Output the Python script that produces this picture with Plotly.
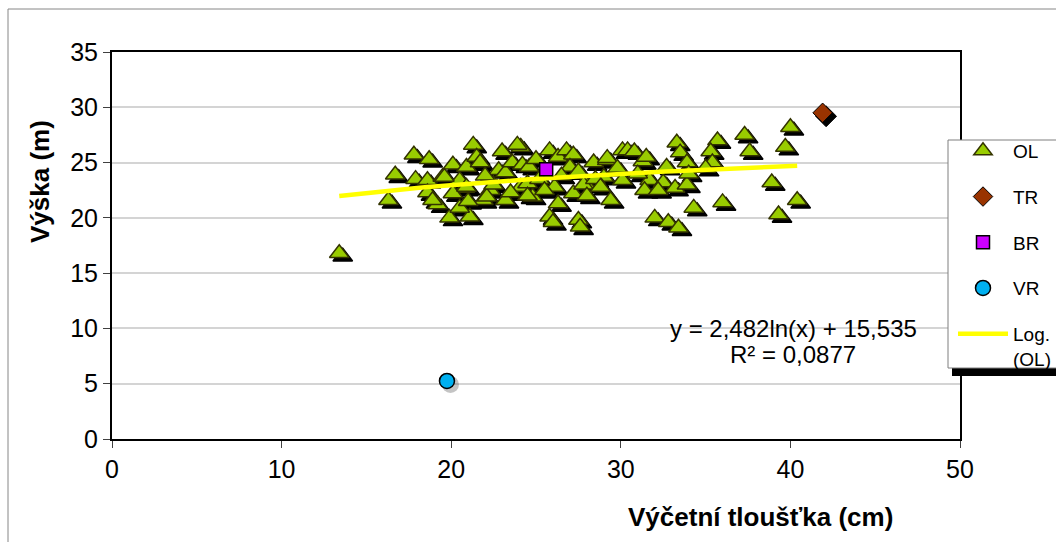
import plotly.graph_objects as go
import numpy as np

# Výčetní tloušťka (cm) and výška (m) of individual trees
ol_x = [13.4, 16.3, 16.7, 17.8, 18.7, 17.9, 18.6, 19.5, 20.1, 20.9, 21.3, 19.2, 19.9, 21.1,
        18.6, 18.9, 20.5, 20.8, 21.5, 20.1, 20.5, 21.7, 22.8, 23.2, 22.3, 21.9, 23.2, 24.1,
        23.6, 24.2, 24.6, 24.1, 24.8, 25.8, 26.3, 26.8, 27.2, 27.0, 26.1, 26.3, 25.8, 26.0,
        27.5, 27.6, 27.2, 27.9, 28.4, 29.2, 29.4, 29.0, 30.1, 30.1, 30.4, 30.8, 31.3, 31.7,
        31.4, 32.5, 32.7, 33.3, 33.5, 33.9, 33.2, 33.9, 34.3, 32.0, 32.8, 33.4, 35.7, 35.3,
        35.4, 36.0, 37.3, 37.6, 38.9, 39.3, 40.0, 39.7, 40.4, 19.6, 20.9, 22.1, 23.9, 24.5,
        27.8, 29.2, 22.5, 23.5, 24.5, 25.2, 25.5, 26.5, 27.5, 28.0, 28.5, 29.8, 31.0, 32.2,
        25.0, 22.0, 23.0, 28.8, 31.5, 34.0, 35.0, 21.0]
ol_y = [16.8, 21.6, 23.9, 25.7, 25.3, 23.5, 23.4, 23.7, 24.8, 24.6, 26.6, 21.2, 20.0, 20.1,
        22.3, 21.6, 20.9, 22.7, 25.5, 22.2, 23.4, 25.0, 24.3, 24.1, 22.5, 21.6, 21.6, 26.4,
        25.0, 24.8, 24.6, 22.8, 21.9, 26.1, 25.5, 26.1, 25.7, 24.6, 22.8, 21.3, 20.1, 19.6,
        19.8, 19.2, 22.2, 23.1, 25.0, 25.2, 21.6, 23.7, 26.1, 23.4, 26.1, 26.0, 25.1, 23.4,
        22.5, 23.2, 24.6, 26.8, 25.9, 25.0, 22.7, 23.0, 20.9, 20.0, 19.6, 19.1, 27.0, 26.0,
        25.0, 21.4, 27.5, 26.0, 23.2, 20.3, 28.2, 26.4, 21.6, 23.7, 22.8, 21.9, 26.6, 23.1,
        23.0, 25.4, 23.0, 22.3, 22.0, 23.5, 22.5, 23.8, 24.2, 22.0, 23.5, 24.5, 24.0, 22.5,
        25.3, 23.8, 26.0, 22.8, 25.5, 24.0, 24.5, 21.5]
tr_x, tr_y = [41.9], [29.5]
br_x, br_y = [25.6], [24.4]
vr_x, vr_y = [19.75], [5.25]

# logarithmic trend of OL: y = a*ln(x) + b
log_a, log_b, r2 = 2.482, 15.535, 0.0877

x_ticks = [0, 10, 20, 30, 40, 50]
y_ticks = [0, 5, 10, 15, 20, 25, 30, 35]

W, H = 1056, 542
ML, MR, MT, MB = 112, 96, 52, 103
XR, YR = [0, 50], [0, 35]
px_x = (W - ML - MR) / (XR[1] - XR[0])
px_y = (H - MT - MB) / (YR[1] - YR[0])
SH = 3.5  # drop shadow offset in pixels
xr_sh = [XR[0] - SH / px_x, XR[1] - SH / px_x]
yr_sh = [YR[0] + SH / px_y, YR[1] + SH / px_y]

FONT = "Liberation Sans, Arial, sans-serif"
tri_fill, tri_edge = "#99cc00", "#333300"

fig = go.Figure()

# shadows (drawn on the shifted base axes, beneath everything)
fig.add_trace(go.Scatter(x=ol_x, y=ol_y, mode="markers", xaxis="x", yaxis="y", showlegend=False,
                         hoverinfo="skip",
                         marker=dict(symbol="triangle-up", size=17, color="black",
                                     line=dict(width=1.5, color="black"))))
fig.add_trace(go.Scatter(x=tr_x, y=tr_y, mode="markers", xaxis="x", yaxis="y", showlegend=False,
                         hoverinfo="skip",
                         marker=dict(symbol="diamond", size=16, color="black",
                                     line=dict(width=1, color="black"))))
fig.add_trace(go.Scatter(x=vr_x, y=vr_y, mode="markers", xaxis="x", yaxis="y", showlegend=False,
                         hoverinfo="skip",
                         marker=dict(symbol="circle", size=17, color="rgba(60,60,60,0.3)",
                                     line=dict(width=0))))

# data
fig.add_trace(go.Scatter(x=ol_x, y=ol_y, mode="markers", name="OL", xaxis="x2", yaxis="y2",
                         legendgroup="g1", legendrank=1,
                         marker=dict(symbol="triangle-up", size=17, color=tri_fill,
                                     line=dict(width=1.5, color=tri_edge))))
xt = np.linspace(min(ol_x), max(ol_x), 60)
yt = log_a * np.log(xt) + log_b
fig.add_trace(go.Scatter(x=xt, y=yt, mode="lines", name="Log.<br>(OL)", xaxis="x2", yaxis="y2",
                         legendgroup="g5", legendrank=5,
                         line=dict(color="#ffff00", width=4.5)))
fig.add_trace(go.Scatter(x=tr_x, y=tr_y, mode="markers", name="TR", xaxis="x2", yaxis="y2",
                         legendgroup="g2", legendrank=2,
                         marker=dict(symbol="diamond", size=15, color="#993300",
                                     line=dict(width=1, color="black"))))
fig.add_trace(go.Scatter(x=br_x, y=br_y, mode="markers", name="BR", xaxis="x2", yaxis="y2",
                         legendgroup="g3", legendrank=3,
                         marker=dict(symbol="square", size=13, color="#cc00ff",
                                     line=dict(width=1.5, color="black"))))
fig.add_trace(go.Scatter(x=vr_x, y=vr_y, mode="markers", name="VR", xaxis="x2", yaxis="y2",
                         legendgroup="g4", legendrank=4,
                         marker=dict(symbol="circle", size=15, color="#00b0f0",
                                     line=dict(width=1.5, color="black"))))

fx = lambda p: (p - ML) / (W - ML - MR)
fy = lambda p: (H - MB - p) / (H - MT - MB)

eq_text = f"y = {log_a:.3f}ln(x) + {log_b:.3f}".replace(".", ",")
r2_text = f"R² = {r2:.4f}".replace(".", ",")

fig.update_layout(
    width=W, height=H,
    margin=dict(l=ML, r=MR, t=MT, b=MB, autoexpand=False),
    paper_bgcolor="white", plot_bgcolor="white",
    font=dict(family=FONT, color="black"),
    xaxis=dict(range=xr_sh, visible=False, fixedrange=True),
    yaxis=dict(range=yr_sh, visible=False, fixedrange=True),
    xaxis2=dict(range=XR, overlaying="x", anchor="y2", side="bottom",
                tickvals=x_ticks, ticktext=[str(v) for v in x_ticks],
                showgrid=False, zeroline=False, showline=True, mirror=True,
                linecolor="black", linewidth=2, ticks="outside", ticklen=7,
                tickcolor="#404040", tickfont=dict(size=25, family=FONT)),
    yaxis2=dict(range=YR, overlaying="y", anchor="x2", side="left",
                tickvals=y_ticks, ticktext=[str(v) for v in y_ticks],
                showgrid=True, gridcolor="#d4d4d4", gridwidth=1.5, zeroline=False,
                showline=True, mirror=True, linecolor="black", linewidth=2,
                ticks="outside", ticklen=7, tickcolor="#404040",
                tickfont=dict(size=25, family=FONT)),
    legend=dict(x=fx(953), y=fy(132), xanchor="left", yanchor="top",
                bgcolor="rgba(0,0,0,0)", borderwidth=0,
                font=dict(size=19, family=FONT), tracegroupgap=18,
                itemwidth=50, valign="top", traceorder="grouped"),
    showlegend=True,
    annotations=[
        dict(text="<b>Výčetní tloušťka (cm)</b>", xref="paper", yref="paper",
             x=fx(760), y=fy(517), xanchor="center", yanchor="middle",
             showarrow=False, font=dict(size=26, family=FONT)),
        dict(text="<b>Výška (m)</b>", xref="paper", yref="paper", textangle=-90,
             x=fx(40), y=fy(182), xanchor="center", yanchor="middle",
             showarrow=False, font=dict(size=26, family=FONT)),
        dict(text=eq_text, xref="paper", yref="paper", x=fx(793), y=fy(328),
             xanchor="center", yanchor="middle", showarrow=False,
             font=dict(size=24, family=FONT)),
        dict(text=r2_text, xref="paper", yref="paper", x=fx(793), y=fy(354),
             xanchor="center", yanchor="middle", showarrow=False,
             font=dict(size=24, family=FONT)),
    ],
    shapes=[
        # chart frame
        dict(type="rect", xref="paper", yref="paper", x0=fx(8), x1=fx(1070),
             y0=fy(9), y1=fy(560), line=dict(color="#868686", width=1), layer="below"),
        # legend box and its shadow
        dict(type="rect", xref="paper", yref="paper", x0=fx(952), x1=fx(1070),
             y0=fy(368), y1=fy(376), line=dict(width=0), fillcolor="black", layer="above"),
        dict(type="rect", xref="paper", yref="paper", x0=fx(948), x1=fx(1070),
             y0=fy(140), y1=fy(368), line=dict(color="#7f7f7f", width=1),
             fillcolor="white", layer="above"),
    ],
)

fig.write_html("out.html")
